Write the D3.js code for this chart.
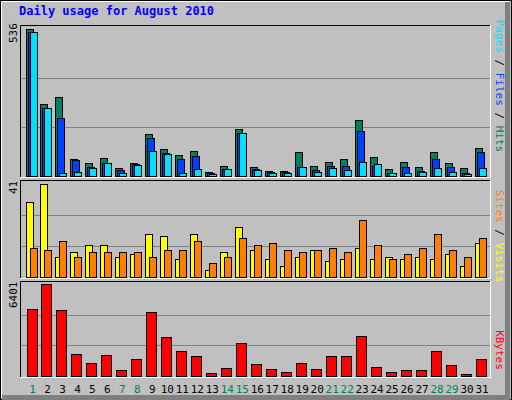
<!DOCTYPE html><html><head><script src="https://cdn.jsdelivr.net/npm/d3@7"></script>
<style>body{margin:0;background:#fff}text{font-family:"DejaVu Sans Mono",monospace}</style></head><body>
<svg id="c" width="512" height="400"></svg>
<script>
const days=d3.range(1,32);
const weekend=[1,7,8,14,15,21,22,28,29];
const hits=[536,263,289,63,49,67,30,49,154,99,78,92,16,38,172,34,18,18,89,38,52,63,205,70,27,52,34,89,49,30,103];
const files=[525,249,212,59,34,49,21,42,139,85,63,74,10,27,158,27,15,15,33,23,38,38,165,38,12,34,19,63,34,12,89];
const pages=[525,249,12,16,30,49,12,39,92,79,12,27,6,27,158,23,11,10,34,16,30,23,52,45,12,12,16,30,16,8,30];
const visits=[33,41,9,11,14,14,9,10,19,18,8,19,3,11,22,12,8,5,9,12,7,8,13,8,9,8,9,8,10,5,15];
const sites=[13,12,16,9,11,11,11,11,9,12,12,16,6,9,17,14,15,12,11,12,13,11,25,14,8,10,13,19,12,9,17];
const kbytes=[4649,6401,4579,1565,934,1495,444,1215,4439,2687,1705,1425,234,584,2266,864,514,304,934,514,1425,1425,2757,654,304,444,444,1705,794,164,1215];
const maxLabels=["536","41","6401"];

const svg=d3.select("#c");
svg.append("rect").attr("width",512).attr("height",400).attr("fill","#C0C0C0");
svg.append("rect").attr("x",0.5).attr("y",0.5).attr("width",511).attr("height",399).attr("fill","none").attr("stroke","#000");
svg.append("path").attr("d","M1.5,398V1.5H510").attr("stroke","#fff").attr("fill","none");
svg.append("path").attr("d","M2,397.5H507.5V2").attr("stroke","#808080").attr("stroke-width",5).attr("fill","none");
svg.append("text").attr("x",19).attr("y",15).attr("fill","#0000FF").attr("font-weight","bold").attr("font-size",12).text("Daily usage for August 2010");

const x=d3.scaleBand().domain(days).range([25.5,490]).padding(0);
const X0=20,X1=490;
const panels=[{y0:25,y1:177,b:176,top:29,max:536},{y0:180,y1:278,b:277,top:184,max:41},{y0:281,y1:377,b:376,top:284,max:6401}];
panels.forEach((p,i)=>{
  svg.append("rect").attr("x",X0).attr("y",p.y0).attr("width",X1-X0).attr("height",p.y1-p.y0).attr("fill","#C0C0C0");
  const y=d3.scaleLinear().domain([0,p.max]).range([p.b,p.top]);
  p.y=y;
  [1/3,2/3].forEach(f=>{const gy=Math.round(y(p.max*f))+0.5;svg.append("line").attr("x1",X0).attr("x2",X1).attr("y1",gy).attr("y2",gy).attr("stroke","#808080").attr("stroke-width",1);});
  svg.append("path").attr("d",`M${X0+.5},${p.y1}V${p.y0+.5}H${X1}`).attr("stroke","#000").attr("fill","none");
  svg.append("path").attr("d",`M${X0},${p.y1+.5}H${X1+.5}V${p.y0}`).attr("stroke","#fff").attr("fill","none");
  svg.append("text").attr("transform",`translate(17,${p.top+ (i==2?24:(i==0?14:10))}) rotate(-90)`).attr("font-size",11).attr("fill","#000").text(maxLabels[i]);
});
function bars(p,data,off,w,color){
  svg.append("g").selectAll("rect").data(data).join("rect")
   .attr("x",(d,i)=>Math.round(x(days[i]))+off+0.5).attr("y",d=>Math.round(p.y(d))+0.5)
   .attr("width",w).attr("height",d=>Math.max(0,Math.round(p.b-p.y(d))))
   .attr("fill",color).attr("stroke","#000");
}
bars(panels[0],hits,0,7,"#008060");
bars(panels[0],files,2,7,"#0040FF");
bars(panels[0],pages,4,7,"#00E0FF");
bars(panels[1],visits,0,7,"#FFFF00");
bars(panels[1],sites,4,7,"#FF8000");
bars(panels[2],kbytes,1,10,"#FF0000");
svg.append("g").selectAll("text").data(days).join("text")
 .attr("x",d=>x(d)+x.bandwidth()/2-0.5).attr("y",393).attr("text-anchor","middle").attr("font-size",11)
 .attr("fill",d=>weekend.includes(d)?"#008060":"#000").text(d=>d);
function rlabel(yc,parts){
  const t=svg.append("text").attr("transform",`translate(496,${yc}) rotate(90)`).attr("font-size",11).attr("text-anchor","middle");
  parts.forEach(([s,c])=>t.append("tspan").attr("fill",c).text(s));
}
rlabel(86,[["Hits","#008060"],[" / ","#000"],["Files","#0040FF"],[" / ","#000"],["Pages","#00E0FF"]].reverse());
rlabel(236,[["Visits","#FFFF00"],[" / ","#000"],["Sites","#FF8000"]].reverse());
rlabel(350,[["KBytes","#FF0000"]]);
</script></body></html>
